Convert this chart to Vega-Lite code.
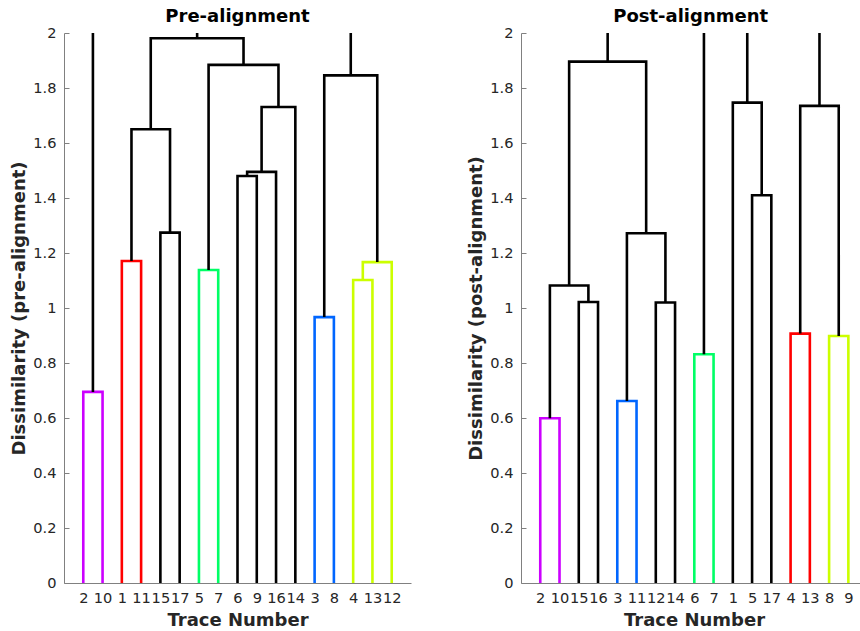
{
  "$schema": "https://vega.github.io/schema/vega-lite/v6.json",
  "bounds": "flush",
  "spacing": 110,
  "padding": {"left": 10, "top": 8, "right": 0, "bottom": 2},
  "config": {
    "view": {"stroke": null},
    "axis": {
      "domainColor": "#808080", "domainWidth": 1, "tickColor": "#808080", "tickWidth": 1,
      "labelFont": "DejaVu Sans", "labelFontSize": 14.6, "labelColor": "#262626",
      "titleFont": "DejaVu Sans", "titleFontSize": 18, "titleFontWeight": "bold", "titleColor": "#262626",
      "grid": false
    },
    "title": {"font": "DejaVu Sans", "fontSize": 18, "fontWeight": "bold", "color": "#000000", "anchor": "middle"}
  },
  "datasets": {
    "pre": [
      {"link": "L1", "ord": 0, "x": 1, "y": 0, "grp": "m"},
      {"link": "L1", "ord": 1, "x": 1, "y": 0.695, "grp": "m"},
      {"link": "L1", "ord": 2, "x": 2, "y": 0.695, "grp": "m"},
      {"link": "L1", "ord": 3, "x": 2, "y": 0, "grp": "m"},
      {"link": "L2", "ord": 0, "x": 3, "y": 0, "grp": "r"},
      {"link": "L2", "ord": 1, "x": 3, "y": 1.171, "grp": "r"},
      {"link": "L2", "ord": 2, "x": 4, "y": 1.171, "grp": "r"},
      {"link": "L2", "ord": 3, "x": 4, "y": 0, "grp": "r"},
      {"link": "L3", "ord": 0, "x": 5, "y": 0, "grp": "k"},
      {"link": "L3", "ord": 1, "x": 5, "y": 1.274, "grp": "k"},
      {"link": "L3", "ord": 2, "x": 6, "y": 1.274, "grp": "k"},
      {"link": "L3", "ord": 3, "x": 6, "y": 0, "grp": "k"},
      {"link": "L4", "ord": 0, "x": 7, "y": 0, "grp": "g"},
      {"link": "L4", "ord": 1, "x": 7, "y": 1.138, "grp": "g"},
      {"link": "L4", "ord": 2, "x": 8, "y": 1.138, "grp": "g"},
      {"link": "L4", "ord": 3, "x": 8, "y": 0, "grp": "g"},
      {"link": "L5", "ord": 0, "x": 9, "y": 0, "grp": "k"},
      {"link": "L5", "ord": 1, "x": 9, "y": 1.48, "grp": "k"},
      {"link": "L5", "ord": 2, "x": 10, "y": 1.48, "grp": "k"},
      {"link": "L5", "ord": 3, "x": 10, "y": 0, "grp": "k"},
      {"link": "L6", "ord": 0, "x": 9.5, "y": 1.48, "grp": "k"},
      {"link": "L6", "ord": 1, "x": 9.5, "y": 1.495, "grp": "k"},
      {"link": "L6", "ord": 2, "x": 11, "y": 1.495, "grp": "k"},
      {"link": "L6", "ord": 3, "x": 11, "y": 0, "grp": "k"},
      {"link": "L7", "ord": 0, "x": 10.25, "y": 1.495, "grp": "k"},
      {"link": "L7", "ord": 1, "x": 10.25, "y": 1.731, "grp": "k"},
      {"link": "L7", "ord": 2, "x": 12, "y": 1.731, "grp": "k"},
      {"link": "L7", "ord": 3, "x": 12, "y": 0, "grp": "k"},
      {"link": "L8", "ord": 0, "x": 7.5, "y": 1.138, "grp": "k"},
      {"link": "L8", "ord": 1, "x": 7.5, "y": 1.884, "grp": "k"},
      {"link": "L8", "ord": 2, "x": 11.125, "y": 1.884, "grp": "k"},
      {"link": "L8", "ord": 3, "x": 11.125, "y": 1.731, "grp": "k"},
      {"link": "L9", "ord": 0, "x": 3.5, "y": 1.171, "grp": "k"},
      {"link": "L9", "ord": 1, "x": 3.5, "y": 1.65, "grp": "k"},
      {"link": "L9", "ord": 2, "x": 5.5, "y": 1.65, "grp": "k"},
      {"link": "L9", "ord": 3, "x": 5.5, "y": 1.274, "grp": "k"},
      {"link": "L10", "ord": 0, "x": 4.5, "y": 1.65, "grp": "k"},
      {"link": "L10", "ord": 1, "x": 4.5, "y": 1.981, "grp": "k"},
      {"link": "L10", "ord": 2, "x": 9.3125, "y": 1.981, "grp": "k"},
      {"link": "L10", "ord": 3, "x": 9.3125, "y": 1.884, "grp": "k"},
      {"link": "L11", "ord": 0, "x": 13, "y": 0, "grp": "b"},
      {"link": "L11", "ord": 1, "x": 13, "y": 0.967, "grp": "b"},
      {"link": "L11", "ord": 2, "x": 14, "y": 0.967, "grp": "b"},
      {"link": "L11", "ord": 3, "x": 14, "y": 0, "grp": "b"},
      {"link": "L12", "ord": 0, "x": 15, "y": 0, "grp": "y"},
      {"link": "L12", "ord": 1, "x": 15, "y": 1.102, "grp": "y"},
      {"link": "L12", "ord": 2, "x": 16, "y": 1.102, "grp": "y"},
      {"link": "L12", "ord": 3, "x": 16, "y": 0, "grp": "y"},
      {"link": "L13", "ord": 0, "x": 15.5, "y": 1.102, "grp": "y"},
      {"link": "L13", "ord": 1, "x": 15.5, "y": 1.167, "grp": "y"},
      {"link": "L13", "ord": 2, "x": 17, "y": 1.167, "grp": "y"},
      {"link": "L13", "ord": 3, "x": 17, "y": 0, "grp": "y"},
      {"link": "L14", "ord": 0, "x": 13.5, "y": 0.967, "grp": "k"},
      {"link": "L14", "ord": 1, "x": 13.5, "y": 1.846, "grp": "k"},
      {"link": "L14", "ord": 2, "x": 16.25, "y": 1.846, "grp": "k"},
      {"link": "L14", "ord": 3, "x": 16.25, "y": 1.167, "grp": "k"},
      {"link": "S1", "ord": 0, "x": 1.5, "y": 0.695, "grp": "k"},
      {"link": "S1", "ord": 1, "x": 1.5, "y": 2, "grp": "k"},
      {"link": "S2", "ord": 0, "x": 6.90625, "y": 1.981, "grp": "k"},
      {"link": "S2", "ord": 1, "x": 6.90625, "y": 2, "grp": "k"},
      {"link": "S3", "ord": 0, "x": 14.875, "y": 1.846, "grp": "k"},
      {"link": "S3", "ord": 1, "x": 14.875, "y": 2, "grp": "k"}
    ],
    "post": [
      {"link": "P1", "ord": 0, "x": 1, "y": 0, "grp": "m"},
      {"link": "P1", "ord": 1, "x": 1, "y": 0.599, "grp": "m"},
      {"link": "P1", "ord": 2, "x": 2, "y": 0.599, "grp": "m"},
      {"link": "P1", "ord": 3, "x": 2, "y": 0, "grp": "m"},
      {"link": "P2", "ord": 0, "x": 3, "y": 0, "grp": "k"},
      {"link": "P2", "ord": 1, "x": 3, "y": 1.022, "grp": "k"},
      {"link": "P2", "ord": 2, "x": 4, "y": 1.022, "grp": "k"},
      {"link": "P2", "ord": 3, "x": 4, "y": 0, "grp": "k"},
      {"link": "P3", "ord": 0, "x": 1.5, "y": 0.599, "grp": "k"},
      {"link": "P3", "ord": 1, "x": 1.5, "y": 1.082, "grp": "k"},
      {"link": "P3", "ord": 2, "x": 3.5, "y": 1.082, "grp": "k"},
      {"link": "P3", "ord": 3, "x": 3.5, "y": 1.022, "grp": "k"},
      {"link": "P4", "ord": 0, "x": 5, "y": 0, "grp": "b"},
      {"link": "P4", "ord": 1, "x": 5, "y": 0.662, "grp": "b"},
      {"link": "P4", "ord": 2, "x": 6, "y": 0.662, "grp": "b"},
      {"link": "P4", "ord": 3, "x": 6, "y": 0, "grp": "b"},
      {"link": "P5", "ord": 0, "x": 7, "y": 0, "grp": "k"},
      {"link": "P5", "ord": 1, "x": 7, "y": 1.02, "grp": "k"},
      {"link": "P5", "ord": 2, "x": 8, "y": 1.02, "grp": "k"},
      {"link": "P5", "ord": 3, "x": 8, "y": 0, "grp": "k"},
      {"link": "P6", "ord": 0, "x": 5.5, "y": 0.662, "grp": "k"},
      {"link": "P6", "ord": 1, "x": 5.5, "y": 1.272, "grp": "k"},
      {"link": "P6", "ord": 2, "x": 7.5, "y": 1.272, "grp": "k"},
      {"link": "P6", "ord": 3, "x": 7.5, "y": 1.02, "grp": "k"},
      {"link": "P7", "ord": 0, "x": 2.5, "y": 1.082, "grp": "k"},
      {"link": "P7", "ord": 1, "x": 2.5, "y": 1.896, "grp": "k"},
      {"link": "P7", "ord": 2, "x": 6.5, "y": 1.896, "grp": "k"},
      {"link": "P7", "ord": 3, "x": 6.5, "y": 1.272, "grp": "k"},
      {"link": "P8", "ord": 0, "x": 9, "y": 0, "grp": "g"},
      {"link": "P8", "ord": 1, "x": 9, "y": 0.832, "grp": "g"},
      {"link": "P8", "ord": 2, "x": 10, "y": 0.832, "grp": "g"},
      {"link": "P8", "ord": 3, "x": 10, "y": 0, "grp": "g"},
      {"link": "P9", "ord": 0, "x": 12, "y": 0, "grp": "k"},
      {"link": "P9", "ord": 1, "x": 12, "y": 1.41, "grp": "k"},
      {"link": "P9", "ord": 2, "x": 13, "y": 1.41, "grp": "k"},
      {"link": "P9", "ord": 3, "x": 13, "y": 0, "grp": "k"},
      {"link": "P10", "ord": 0, "x": 11, "y": 0, "grp": "k"},
      {"link": "P10", "ord": 1, "x": 11, "y": 1.747, "grp": "k"},
      {"link": "P10", "ord": 2, "x": 12.5, "y": 1.747, "grp": "k"},
      {"link": "P10", "ord": 3, "x": 12.5, "y": 1.41, "grp": "k"},
      {"link": "P11", "ord": 0, "x": 14, "y": 0, "grp": "r"},
      {"link": "P11", "ord": 1, "x": 14, "y": 0.907, "grp": "r"},
      {"link": "P11", "ord": 2, "x": 15, "y": 0.907, "grp": "r"},
      {"link": "P11", "ord": 3, "x": 15, "y": 0, "grp": "r"},
      {"link": "P12", "ord": 0, "x": 16, "y": 0, "grp": "y"},
      {"link": "P12", "ord": 1, "x": 16, "y": 0.898, "grp": "y"},
      {"link": "P12", "ord": 2, "x": 17, "y": 0.898, "grp": "y"},
      {"link": "P12", "ord": 3, "x": 17, "y": 0, "grp": "y"},
      {"link": "P13", "ord": 0, "x": 14.5, "y": 0.907, "grp": "k"},
      {"link": "P13", "ord": 1, "x": 14.5, "y": 1.735, "grp": "k"},
      {"link": "P13", "ord": 2, "x": 16.5, "y": 1.735, "grp": "k"},
      {"link": "P13", "ord": 3, "x": 16.5, "y": 0.898, "grp": "k"},
      {"link": "S1", "ord": 0, "x": 4.5, "y": 1.896, "grp": "k"},
      {"link": "S1", "ord": 1, "x": 4.5, "y": 2, "grp": "k"},
      {"link": "S2", "ord": 0, "x": 9.5, "y": 0.832, "grp": "k"},
      {"link": "S2", "ord": 1, "x": 9.5, "y": 2, "grp": "k"},
      {"link": "S3", "ord": 0, "x": 11.75, "y": 1.747, "grp": "k"},
      {"link": "S3", "ord": 1, "x": 11.75, "y": 2, "grp": "k"},
      {"link": "S4", "ord": 0, "x": 15.5, "y": 1.735, "grp": "k"},
      {"link": "S4", "ord": 1, "x": 15.5, "y": 2, "grp": "k"}
    ]
  },
  "hconcat": [
    {
      "width": 347,
      "height": 550,
      "title": {"text": "Pre-alignment", "offset": -1},
      "data": {"name": "pre"},
      "mark": {"type": "line", "strokeWidth": 2.6, "strokeJoin": "miter", "strokeCap": "butt", "clip": true},
      "encoding": {
        "x": {
          "field": "x", "type": "quantitative",
          "scale": {"domain": [0, 18], "nice": false, "zero": false},
          "axis": {
            "title": "Trace Number", "values": [1,2,3,4,5,6,7,8,9,10,11,12,13,14,15,16,17],
            "labelExpr": "['2','10','1','11','15','17','5','7','6','9','16','14','3','8','4','13','12'][datum.value - 1]",
            "ticks": false, "labelOverlap": false, "labelBound": false, "labelFlush": false,
            "labelPadding": 7, "titlePadding": 7
          }
        },
        "y": {
          "field": "y", "type": "quantitative",
          "scale": {"domain": [0, 2], "nice": false, "zero": false},
          "axis": {
            "title": "Dissimilarity (pre-alignment)", "values": [0,0.2,0.4,0.6,0.8,1,1.2,1.4,1.6,1.8,2],
            "format": "~g", "tickSize": -5, "labelPadding": 13, "labelOverlap": false, "labelBound": false, "labelFlush": false,
            "titlePadding": 4
          }
        },
        "detail": {"field": "link"},
        "order": {"field": "ord"},
        "color": {
          "field": "grp", "type": "nominal",
          "scale": {"domain": ["k","m","r","g","b","y"], "range": ["#000000","#cc00ff","#ff0000","#00ff66","#0066ff","#ccff00"]},
          "legend": null
        }
      }
    },
    {
      "width": 339.3,
      "height": 550,
      "title": {"text": "Post-alignment", "offset": -1},
      "data": {"name": "post"},
      "mark": {"type": "line", "strokeWidth": 2.6, "strokeJoin": "miter", "strokeCap": "butt", "clip": true},
      "encoding": {
        "x": {
          "field": "x", "type": "quantitative",
          "scale": {"domain": [0, 17.62], "nice": false, "zero": false},
          "axis": {
            "title": "Trace Number", "titleX": 173, "values": [1,2,3,4,5,6,7,8,9,10,11,12,13,14,15,16,17],
            "labelExpr": "['2','10','15','16','3','11','12','14','6','7','1','5','17','4','13','8','9'][datum.value - 1]",
            "ticks": false, "labelOverlap": false, "labelBound": false, "labelFlush": false,
            "labelPadding": 7, "titlePadding": 7
          }
        },
        "y": {
          "field": "y", "type": "quantitative",
          "scale": {"domain": [0, 2], "nice": false, "zero": false},
          "axis": {
            "title": "Dissimilarity (post-alignment)", "values": [0,0.2,0.4,0.6,0.8,1,1.2,1.4,1.6,1.8,2],
            "format": "~g", "tickSize": -5, "labelPadding": 13, "labelOverlap": false, "labelBound": false, "labelFlush": false,
            "titlePadding": 4
          }
        },
        "detail": {"field": "link"},
        "order": {"field": "ord"},
        "color": {
          "field": "grp", "type": "nominal",
          "scale": {"domain": ["k","m","r","g","b","y"], "range": ["#000000","#cc00ff","#ff0000","#00ff66","#0066ff","#ccff00"]},
          "legend": null
        }
      }
    }
  ]
}
